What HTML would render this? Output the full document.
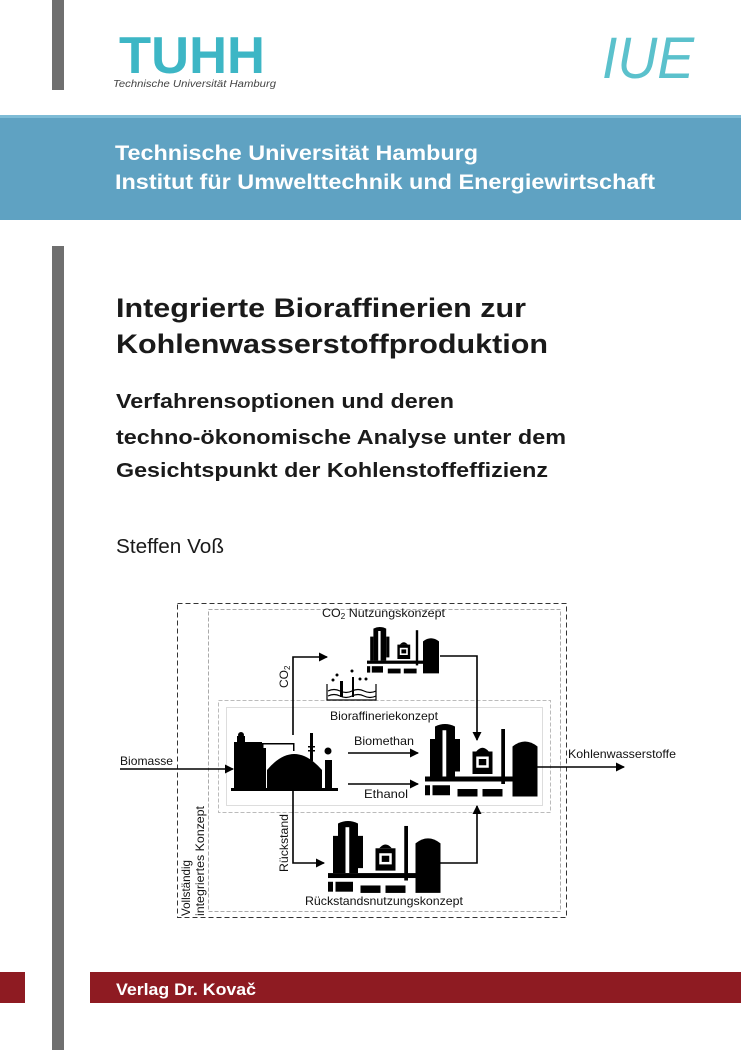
<!DOCTYPE html>
<html><head><meta charset="utf-8"><style>html,body{margin:0;padding:0;background:#fff}svg{display:block}</style></head>
<body>
<svg width="741" height="1050" viewBox="0 0 741 1050" xmlns="http://www.w3.org/2000/svg" font-family="Liberation Sans, Arial, sans-serif">
<rect width="741" height="1050" fill="#fff"/>
<rect x="52" y="0" width="12" height="90" fill="#6f6f6f"/>
<rect x="52" y="246" width="12" height="804" fill="#6f6f6f"/>
<text x="119" y="73" font-size="52" font-weight="bold" fill="#3db6c5" textLength="146" lengthAdjust="spacingAndGlyphs">TUHH</text>
<text x="113" y="87" font-size="10" font-style="italic" fill="#444" textLength="163" lengthAdjust="spacingAndGlyphs">Technische Universität Hamburg</text>
<text x="602" y="78" font-size="58" font-style="italic" fill="#5bc1cc" textLength="92" lengthAdjust="spacingAndGlyphs">IUE</text>
<rect x="0" y="115" width="741" height="105" fill="#5fa2c2"/>
<rect x="0" y="115" width="741" height="3" fill="#7fbcd6"/>
<text x="115" y="160" font-size="21" font-weight="bold" fill="#fff" textLength="363" lengthAdjust="spacingAndGlyphs">Technische Universität Hamburg</text>
<text x="115" y="189" font-size="21" font-weight="bold" fill="#fff" textLength="540" lengthAdjust="spacingAndGlyphs">Institut für Umwelttechnik und Energiewirtschaft</text>
<g fill="#1a1a1a" font-weight="bold">
<text x="116" y="317" font-size="27" textLength="410" lengthAdjust="spacingAndGlyphs">Integrierte Bioraffinerien zur</text>
<text x="116" y="353" font-size="27" textLength="432" lengthAdjust="spacingAndGlyphs">Kohlenwasserstoffproduktion</text>
<text x="116" y="408" font-size="20" textLength="338" lengthAdjust="spacingAndGlyphs">Verfahrensoptionen und deren</text>
<text x="116" y="444" font-size="20" textLength="450" lengthAdjust="spacingAndGlyphs">techno-ökonomische Analyse unter dem</text>
<text x="116" y="477" font-size="20" textLength="432" lengthAdjust="spacingAndGlyphs">Gesichtspunkt der Kohlenstoffeffizienz</text>
</g>
<text x="116" y="553" font-size="20" fill="#1a1a1a" textLength="108" lengthAdjust="spacingAndGlyphs">Steffen Voß</text>

<defs><marker id="ah" markerWidth="9" markerHeight="9" refX="8" refY="4.5" orient="auto" markerUnits="userSpaceOnUse"><path d="M0,0 L9,4.5 L0,9 z" fill="#000"/></marker></defs>
<rect x="177.5" y="603.5" width="389" height="314" fill="none" stroke="#333" stroke-dasharray="5,3" stroke-width="1"/>
<rect x="208.5" y="609.5" width="352" height="302" fill="none" stroke="#aaa" stroke-dasharray="4,2" stroke-width="1"/>
<rect x="218.5" y="700.5" width="332" height="112" fill="none" stroke="#bbb" stroke-dasharray="4,2" stroke-width="1"/>
<rect x="226.5" y="707.5" width="316" height="98" fill="none" stroke="#ddd" stroke-width="1"/>
<g stroke="#000" stroke-width="1.6" fill="none">
<line x1="120" y1="769" x2="233" y2="769" marker-end="url(#ah)"/>
<polyline points="293,735 293,657 327,657" marker-end="url(#ah)"/>
<polyline points="440,656 477,656 477,740" marker-end="url(#ah)"/>
<line x1="348" y1="753" x2="418" y2="753" marker-end="url(#ah)"/>
<line x1="348" y1="784" x2="418" y2="784" marker-end="url(#ah)"/>
<line x1="537" y1="767" x2="624" y2="767" marker-end="url(#ah)"/>
<polyline points="293,790 293,863 324,863" marker-end="url(#ah)"/>
<polyline points="440,863 477,863 477,806" marker-end="url(#ah)"/>
</g>
<!-- left plant -->
<g fill="#000">
<rect x="234" y="742" width="28" height="48"/><rect x="237" y="736" width="8" height="8"/><circle cx="241" cy="735" r="3"/><rect x="250" y="744" width="10" height="8"/><rect x="256" y="748" width="10" height="42"/>
<path d="M267,790 L267,770 Q294,738 322,770 L322,790 z"/>
<rect x="262" y="743" width="1.5" height="12"/><rect x="262" y="743" width="32" height="1.5"/><rect x="293" y="743" width="1.5" height="8"/>
<rect x="310" y="733" width="3" height="28"/><rect x="308" y="746" width="7" height="1.5"/><rect x="308" y="750" width="7" height="1.5"/>
<rect x="325" y="760" width="7" height="30"/><circle cx="328" cy="751" r="3.5"/>
<rect x="231" y="788" width="107" height="3"/>
</g>
<!-- water tank -->
<g stroke="#000" fill="none" stroke-width="1.2"><polyline points="327,684 327,700 376,700 376,684"/><path d="M328,691 q6,-3 12,0 t12,0 t12,0 t12,0"/><path d="M328,696 q6,-3 12,0 t12,0 t12,0 t12,0"/></g>
<g fill="#000"><rect x="340" y="681" width="3" height="16"/><rect x="352" y="677" width="2" height="20"/><circle cx="333" cy="680" r="1.5"/><circle cx="337" cy="675" r="1.5"/><circle cx="352" cy="671" r="1.5"/><circle cx="360" cy="679" r="1.5"/><circle cx="366" cy="679" r="1.5"/></g>
<defs>
<g id="pl" fill="#000">
<path d="M8,2 q8,-4 16,0 v40 h-16 z"/><rect x="4" y="12" width="4" height="30"/><rect x="24" y="12" width="4" height="26"/>
<rect x="14" y="5" width="3" height="37" fill="#fff"/>
<rect x="38" y="22" width="16" height="18"/><path d="M41,22 q5,-6 10,0 z"/><rect x="41" y="26" width="10" height="9" fill="#fff"/><rect x="43" y="28" width="6" height="5"/>
<rect x="61" y="4" width="3" height="44"/>
<path d="M70,18 q10,-8 20,0 v40 h-20 z"/>
<rect x="0" y="42" width="72" height="4"/>
<rect x="0" y="49" width="4" height="8"/><rect x="6" y="49" width="14" height="8"/><rect x="26" y="52" width="16" height="6"/><rect x="46" y="52" width="16" height="6"/>
</g>
</defs>
<use href="#pl" transform="translate(367,627) scale(0.8,0.8)"/>
<use href="#pl" transform="translate(425,724) scale(1.25,1.25)"/>
<use href="#pl" transform="translate(328,821) scale(1.25,1.24)"/>
<g font-size="12" fill="#111">
<text x="322" y="617" textLength="123" lengthAdjust="spacingAndGlyphs">CO<tspan font-size="8" dy="2">2</tspan><tspan dy="-2"> Nutzungskonzept</tspan></text>
<text x="330" y="720" textLength="108" lengthAdjust="spacingAndGlyphs">Bioraffineriekonzept</text>
<text x="354" y="745" textLength="60" lengthAdjust="spacingAndGlyphs">Biomethan</text>
<text x="364" y="798" textLength="44" lengthAdjust="spacingAndGlyphs">Ethanol</text>
<text x="120" y="765" textLength="53" lengthAdjust="spacingAndGlyphs">Biomasse</text>
<text x="568" y="758" textLength="108" lengthAdjust="spacingAndGlyphs">Kohlenwasserstoffe</text>
<text x="305" y="905" textLength="158" lengthAdjust="spacingAndGlyphs">Rückstandsnutzungskonzept</text>
<text transform="translate(288,688) rotate(-90)">CO<tspan font-size="8" dy="2">2</tspan></text>
<text transform="translate(288,872) rotate(-90)" textLength="58" lengthAdjust="spacingAndGlyphs">Rückstand</text>
<text transform="translate(190,916) rotate(-90)" textLength="56" lengthAdjust="spacingAndGlyphs">Vollständig</text>
<text transform="translate(204,916) rotate(-90)" textLength="110" lengthAdjust="spacingAndGlyphs">integriertes Konzept</text>
</g>
<rect x="0" y="972" width="25" height="31" fill="#8e1b22"/>
<rect x="90" y="972" width="651" height="31" fill="#8e1b22"/>
<text x="116" y="995" font-size="17" font-weight="bold" fill="#fff" textLength="140" lengthAdjust="spacingAndGlyphs">Verlag Dr. Kovač</text>
</svg>
</body></html>
